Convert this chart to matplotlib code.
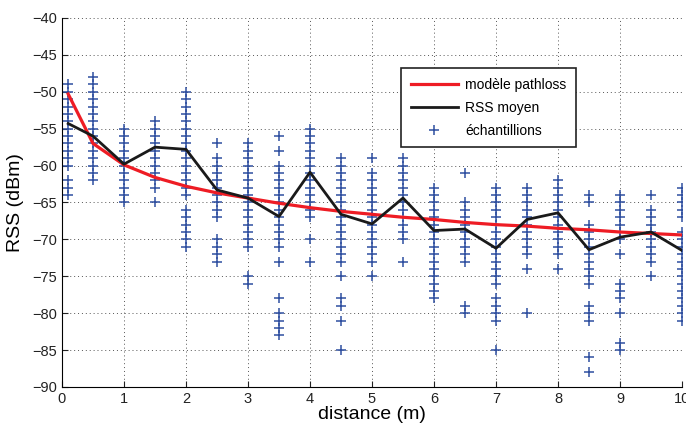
import matplotlib
matplotlib.use("Agg")
import matplotlib.pyplot as plt

plt.rcParams['font.family'] = ['Liberation Sans', 'DejaVu Sans']

# distances de mesure (m)
distances = [0.1, 0.5, 1, 1.5, 2, 2.5, 3, 3.5, 4, 4.5, 5, 5.5, 6, 6.5, 7, 7.5, 8, 8.5, 9, 9.5, 10]

pathloss = [-50.3, -57.0, -59.9, -61.6, -62.8, -63.7, -64.4, -65.1, -65.7, -66.2, -66.6,
            -67.0, -67.3, -67.7, -68.0, -68.2, -68.5, -68.7, -69.0, -69.2, -69.4]

# RSS moyen (dBm), courbe noire
rss_moyen = [-54.3, -56.0, -59.8, -57.5, -57.8, -63.3, -64.4, -66.9, -60.9, -66.6, -67.9,
             -64.4, -68.8, -68.6, -71.2, -67.3, -66.4, -71.4, -69.7, -69.0, -71.5]

# échantillons RSS (dBm), une liste par distance
echantillons = [
    [-49, -50, -51, -52, -53, -54, -55, -56, -57, -58, -59, -60, -62, -63, -64],
    [-48, -49, -50, -51, -52, -53, -54, -55, -56, -57, -58, -59, -60, -61, -62],
    [-55, -56, -57, -58, -59, -60, -61, -62, -63, -64, -65],
    [-54, -55, -56, -57, -58, -59, -60, -61, -62, -63, -65],
    [-50, -51, -52, -53, -54, -55, -56, -57, -58, -59, -60, -61, -62, -63, -64,
     -66, -67, -68, -69, -70, -71],
    [-57, -59, -60, -61, -62, -63, -64, -65, -66, -67, -70, -71, -72, -73],
    [-57, -58, -59, -60, -61, -62, -63, -64, -65, -66, -67, -68, -69, -70, -71, -75, -76],
    [-56, -58, -60, -61, -62, -63, -64, -65, -66, -67, -68, -69, -70, -71, -73,
     -78, -80, -81, -82, -83],
    [-55, -56, -57, -58, -59, -60, -61, -62, -63, -64, -65, -66, -67, -70, -73],
    [-59, -60, -61, -62, -63, -64, -65, -66, -67, -68, -69, -70, -71, -72, -73,
     -75, -78, -79, -81, -85],
    [-59, -61, -62, -63, -64, -65, -66, -67, -68, -69, -70, -71, -72, -73, -75],
    [-59, -60, -61, -62, -63, -64, -65, -66, -67, -68, -69, -70, -73],
    [-63, -64, -65, -66, -67, -68, -69, -70, -71, -72, -73, -74, -75, -76, -77, -78],
    [-61, -65, -66, -67, -68, -69, -70, -71, -72, -73, -79, -80],
    [-63, -64, -65, -66, -67, -68, -69, -70, -71, -72, -73, -74, -75, -76,
     -78, -79, -80, -81, -85],
    [-63, -64, -65, -66, -67, -68, -69, -70, -71, -72, -74, -80],
    [-62, -63, -64, -65, -66, -67, -68, -69, -70, -71, -72, -74],
    [-64, -65, -68, -69, -70, -71, -72, -73, -74, -75, -76, -79, -80, -81, -86, -88],
    [-64, -65, -66, -67, -68, -69, -70, -72, -76, -77, -78, -80, -84, -85],
    [-64, -66, -67, -68, -69, -70, -71, -72, -73, -75],
    [-63, -64, -65, -66, -67, -69, -70, -71, -72, -73, -74, -75, -76, -77, -78,
     -79, -80, -81],
]

fig = plt.figure(figsize=(6.86, 4.25), dpi=100)
ax = fig.add_axes([62 / 686, 38 / 425, 620 / 686, 369 / 425])

xs = [d for d, col in zip(distances, echantillons) for _ in col]
ys = [v for col in echantillons for v in col]

ax.plot(distances, pathloss, color='#ee1c24', linewidth=2.3, label='modèle pathloss', zorder=3)
ax.plot(distances, rss_moyen, color='#1a1a1a', linewidth=2.0, label='RSS moyen', zorder=4)
ax.plot(xs, ys, linestyle='none', marker='+', markersize=7.5, markeredgewidth=1.1,
        color='#2f4fa0', label='échantillions', zorder=2)

ax.set_xlim(0, 10)
ax.set_ylim(-90, -40)
ax.set_xticks(range(0, 11))
ax.set_yticks(range(-90, -39, 5))
ax.grid(True, linestyle=(0, (1, 3)), color='#555555', linewidth=0.7)
ax.spines['top'].set_visible(False)
ax.spines['right'].set_visible(False)
ax.tick_params(direction='in', length=4, labelsize=10.5, colors='#222222')
ax.set_xlabel('distance (m)', fontsize=14, labelpad=0)
ax.set_ylabel('RSS (dBm)', fontsize=14, labelpad=6)

handles, labels = ax.get_legend_handles_labels()
leg = ax.legend(handles, labels, loc='upper left', bbox_to_anchor=(0.547, 0.865),
                borderaxespad=0, fontsize=10, frameon=True, fancybox=False, framealpha=1,
                edgecolor='#222222', handlelength=3.4, handletextpad=0.5,
                borderpad=0.7, labelspacing=0.65)
leg.get_frame().set_linewidth(1.2)

fig.savefig('out.png', dpi=100)
